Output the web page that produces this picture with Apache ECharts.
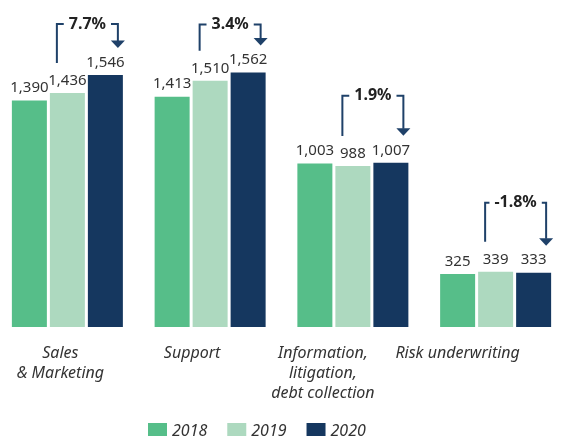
<!DOCTYPE html>
<html>
<head>
<meta charset="utf-8">
<script src="https://cdn.jsdelivr.net/npm/echarts@6/dist/echarts.min.js"></script>
<style>html,body{margin:0;padding:0;background:#fff}#c{width:569px;height:436px}</style>
</head>
<body>
<div id="c"></div>
<script>
// ---- data ----
var categories = ['Sales\n& Marketing', 'Support', 'Information,\nlitigation,\ndebt collection', 'Risk underwriting'];
var seriesNames = ['2018', '2019', '2020'];
var values2018 = [1390, 1413, 1003, 325];
var values2019 = [1436, 1510, 988, 339];
var values2020 = [1546, 1562, 1007, 333];

// ---- styling ----
var colors = ['#56BE89', '#ADD9BF', '#15375F'];
var arrowColor = '#1F4169';
var BAR_W = 35, BAR_GAP = 3;
var labelShift = [14, 36, 60, 76];   // px of right padding to nudge category labels left
var bracketLift = [51, 48, 67, 70];  // px above the 2020 bar top

var FONT = '"Noto Sans", sans-serif';

var chart = echarts.init(document.getElementById('c'));

var xData = categories.map(function (c, i) {
  return { value: c, textStyle: { padding: [0, labelShift[i], 0, 0] } };
});

function barSeries(name, vals, color) {
  return {
    name: name, type: 'bar', data: vals,
    barWidth: BAR_W, barGap: (BAR_GAP / BAR_W * 100) + '%',
    itemStyle: { color: color },
    label: {
      show: true, position: 'top', distance: 5,
      color: '#333', fontSize: 15, fontFamily: FONT,
      formatter: function (p) { return p.value.toLocaleString('en-US'); }
    }
  };
}

var changeData = categories.map(function (c, i) { return [i, values2019[i], values2020[i]]; });

chart.setOption({
  animation: false,
  grid: { left: -4, width: 571, top: 1, bottom: 109, containLabel: false, outerBoundsMode: 'none' },
  legend: {
    data: seriesNames, left: 143, top: 418,
    itemWidth: 19, itemHeight: 16, itemGap: 20,
    icon: 'rect',
    textStyle: { fontSize: 16, fontStyle: 'italic', color: '#333', fontFamily: FONT }
  },
  xAxis: {
    type: 'category', data: xData,
    axisLine: { show: false }, axisTick: { show: false },
    axisLabel: {
      interval: 0, margin: 16, fontSize: 16, lineHeight: 20,
      fontStyle: 'italic', color: '#333', fontFamily: FONT
    }
  },
  yAxis: { type: 'value', min: 0, max: 2000, show: false, splitLine: { show: false } },
  series: [
    barSeries(seriesNames[0], values2018, colors[0]),
    barSeries(seriesNames[1], values2019, colors[1]),
    barSeries(seriesNames[2], values2020, colors[2]),
    {
      type: 'custom', name: 'change', silent: true, z: 10,
      data: changeData,
      renderItem: function (params, api) {
        var idx = api.value(0), v19 = api.value(1), v20 = api.value(2);
        var cx = api.coord([idx, 0])[0];
        var top19 = api.coord([idx, v19])[1];
        var top20 = api.coord([idx, v20])[1];
        var xl = cx - BAR_W / 2 + 7;
        var xr = cx + BAR_W / 2 + BAR_GAP + BAR_W - 5;
        var tip = top20 - 27;
        var lb = top19 - 30;
        var yb = top20 - bracketLift[idx];
        var pct = ((v20 - v19) / v19 * 100).toFixed(1) + '%';
        var st = { stroke: arrowColor, lineWidth: 2, fill: null };
        return {
          type: 'group',
          children: [
            { type: 'polyline', shape: { points: [[xl, lb], [xl, yb], [xr, yb], [xr, tip - 7]] }, style: st },
            { type: 'polygon', shape: { points: [[xr - 7, tip - 7.5], [xr + 7, tip - 7.5], [xr, tip]] }, style: { fill: arrowColor } },
            { type: 'text', x: (xl + xr) / 2, y: yb, z2: 5,
              style: { text: pct, align: 'center', verticalAlign: 'middle',
                font: 'bold 16px ' + FONT, fill: '#222', backgroundColor: '#fff', padding: [2, 5] } }
          ]
        };
      }
    }
  ]
});
</script>
</body>
</html>
